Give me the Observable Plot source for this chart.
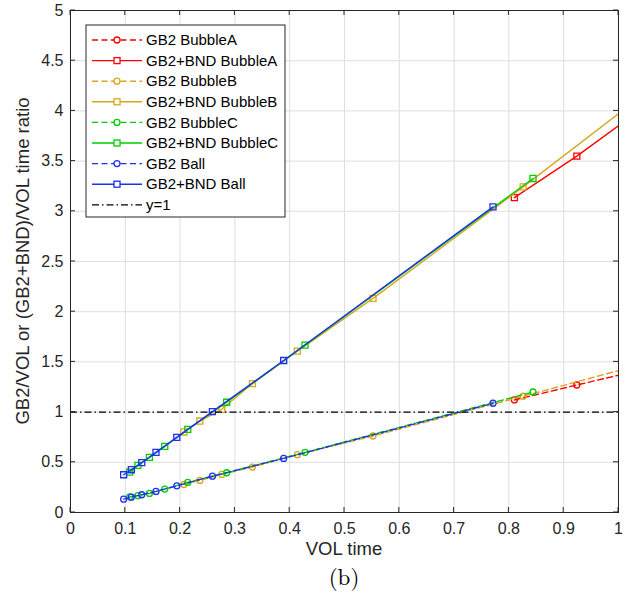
<!DOCTYPE html>
<html><head><meta charset="utf-8">
<script src="https://cdn.jsdelivr.net/npm/d3@7"></script>
<script src="https://cdn.jsdelivr.net/npm/@observablehq/plot@0.6"></script>
<style>body{margin:0;background:#fff} #chart svg{display:block}</style>
</head><body><div id="chart"></div>
<script>
// ---- data ----
const xA = [0.810, 0.924, 1.06];
const yA_GB2 = [1.121, 1.270, 1.444];
const yA_BND = [3.137, 3.550, 4.090];

const xB = [0.207, 0.236, 0.276, 0.332, 0.414, 0.552, 0.826, 1.10];
const yB_GB2 = [0.279, 0.319, 0.379, 0.452, 0.576, 0.762, 1.158, 1.56];
const yB_BND = [0.802, 0.911, 1.028, 1.284, 1.607, 2.133, 3.243, 4.39];

const xC = [0.108, 0.123, 0.144, 0.172, 0.214, 0.285, 0.428, 0.844];
const yC_GB2 = [0.156, 0.168, 0.190, 0.233, 0.300, 0.396, 0.599, 1.200];
const yC_BND = [0.402, 0.469, 0.549, 0.659, 0.828, 1.098, 1.667, 3.327];

const xBall = [0.097, 0.111, 0.130, 0.156, 0.194, 0.259, 0.389, 0.771];
const yBall_GB2 = [0.133, 0.153, 0.177, 0.210, 0.266, 0.362, 0.539, 1.088];
const yBall_BND = [0.376, 0.426, 0.496, 0.599, 0.748, 1.005, 1.514, 3.044];

const refY = [1];
const xTicks = [0, 0.1, 0.2, 0.3, 0.4, 0.5, 0.6, 0.7, 0.8, 0.9, 1];
const yTicks = [0, 0.5, 1, 1.5, 2, 2.5, 3, 3.5, 4, 4.5, 5];
const names = ["GB2 BubbleA", "GB2+BND BubbleA", "GB2 BubbleB", "GB2+BND BubbleB",
  "GB2 BubbleC", "GB2+BND BubbleC", "GB2 Ball", "GB2+BND Ball", "y=1"];
const colors = ["#ff0000", "#ff0000", "#d9a521", "#d9a521", "#00cc00", "#00cc00", "#1f2ff0", "#1f2ff0", "#000000"];
const xLabel = "VOL time";
const yLabel = "GB2/VOL or (GB2+BND)/VOL time ratio";
const caption = "(b)";

// ---- build series ----
const seriesX = [xA, xA, xB, xB, xC, xC, xBall, xBall];
const seriesY = [yA_GB2, yA_BND, yB_GB2, yB_BND, yC_GB2, yC_BND, yBall_GB2, yBall_BND];
const series = seriesX.map((xs, i) => ({
  name: names[i], color: colors[i], dashed: i % 2 === 0,
  symbol: i % 2 === 0 ? "circle" : "square",
  data: xs.map((x, j) => ({x, y: seriesY[i][j]}))
}));

const DASH = "6,3.5";
const DASHDOT = "7,3,1.5,3";
const FONT = "'Liberation Sans', Arial, Helvetica, sans-serif";

const marks = [
  Plot.gridX(xTicks, {stroke: "#dedede", strokeOpacity: 1}),
  Plot.gridY(yTicks, {stroke: "#dedede", strokeOpacity: 1}),
];
for (const s of series) {
  marks.push(Plot.line(s.data, {x: "x", y: "y", stroke: s.color, strokeWidth: 1.4,
    strokeDasharray: s.dashed ? DASH : null, clip: true}));
  marks.push(Plot.dot(s.data, {x: "x", y: "y", symbol: s.symbol, r: s.symbol === "circle" ? 3 : 3.4,
    stroke: s.color, strokeWidth: 1.3, fill: "none", clip: true}));
}
marks.push(Plot.ruleY(refY, {stroke: "#000", strokeWidth: 1.3, strokeDasharray: DASHDOT}));
marks.push(Plot.frame({stroke: "#262626", strokeWidth: 1}));
marks.push(Plot.axisX(xTicks, {tickSize: 0, tickPadding: 10, fontSize: 16, label: null,
  tickFormat: d => String(d)}));
marks.push(Plot.axisY(yTicks, {tickSize: 0, tickPadding: 7, fontSize: 16, label: null,
  tickFormat: d => String(d)}));

const plot = Plot.plot({
  width: 629, height: 606,
  marginTop: 10, marginLeft: 70, marginRight: 11, marginBottom: 94,
  x: {domain: [0, 1]},
  y: {domain: [0, 5]},
  style: {fontFamily: FONT, color: "#262626", background: "#fff", overflow: "visible"},
  marks
});
document.getElementById("chart").appendChild(plot);

// inner tick marks (MATLAB box style) using the plot's scales
const sx = plot.scale("x"), sy = plot.scale("y");
const svg = d3.select(plot);
const x0 = sx.apply(0), x1 = sx.apply(1), y0 = sy.apply(0), y1 = sy.apply(5);
const tg = svg.append("g").attr("stroke", "#262626").attr("stroke-width", 1);
for (const t of xTicks) {
  const px = sx.apply(t);
  tg.append("line").attr("x1", px).attr("x2", px).attr("y1", y0).attr("y2", y0 - 5);
  tg.append("line").attr("x1", px).attr("x2", px).attr("y1", y1).attr("y2", y1 + 5);
}
for (const t of yTicks) {
  const py = sy.apply(t);
  tg.append("line").attr("y1", py).attr("y2", py).attr("x1", x0).attr("x2", x0 + 5);
  tg.append("line").attr("y1", py).attr("y2", py).attr("x1", x1).attr("x2", x1 - 5);
}

// axis titles
svg.append("text").attr("x", (x0 + x1) / 2).attr("y", 549).attr("dy", "0.35em")
  .attr("text-anchor", "middle").attr("font-family", FONT).attr("font-size", 18.5)
  .attr("fill", "#262626").text(xLabel);
svg.append("text").attr("transform", `translate(23,${(y0 + y1) / 2}) rotate(-90)`).attr("dy", "0.35em")
  .attr("text-anchor", "middle").attr("font-family", FONT).attr("font-size", 18.5)
  .attr("fill", "#262626").text(yLabel);

// legend
const lg = svg.append("g").attr("font-family", FONT).attr("font-size", 15).attr("text-anchor", "start");
const L = {left: 86, top: 25, width: 199, height: 192, row0: 40, step: 20.6};
lg.append("rect").attr("x", L.left).attr("y", L.top).attr("width", L.width).attr("height", L.height)
  .attr("fill", "#fff").attr("stroke", "#262626").attr("stroke-width", 1);
names.forEach((n, i) => {
  const cy = L.row0 + i * L.step;
  const isRef = i === 8;
  const s = series[i];
  lg.append("line").attr("x1", L.left + 6).attr("x2", L.left + 56).attr("y1", cy).attr("y2", cy)
    .attr("stroke", colors[i]).attr("stroke-width", isRef ? 1.3 : 1.4)
    .attr("stroke-dasharray", isRef ? DASHDOT : (s.dashed ? DASH : null));
  if (!isRef) {
    if (s.symbol === "circle") {
      lg.append("circle").attr("cx", L.left + 31).attr("cy", cy).attr("r", 3)
        .attr("fill", "#fff").attr("stroke", s.color).attr("stroke-width", 1.3);
    } else {
      lg.append("rect").attr("x", L.left + 28).attr("y", cy - 3).attr("width", 6).attr("height", 6)
        .attr("fill", "#fff").attr("stroke", s.color).attr("stroke-width", 1.3);
    }
  }
  lg.append("text").attr("x", L.left + 60).attr("y", cy).attr("dy", "0.35em")
    .attr("text-anchor", "start").attr("fill", "#000").text(n);
});

// caption
svg.append("text").attr("x", (x0 + x1) / 2).attr("y", 577).attr("dy", "0.35em")
  .attr("text-anchor", "middle").attr("font-family", "'Latin Modern Roman', 'DejaVu Serif', 'Liberation Serif', serif")
  .attr("font-size", 23).attr("fill", "#000").text(caption);
</script>
</body></html>
